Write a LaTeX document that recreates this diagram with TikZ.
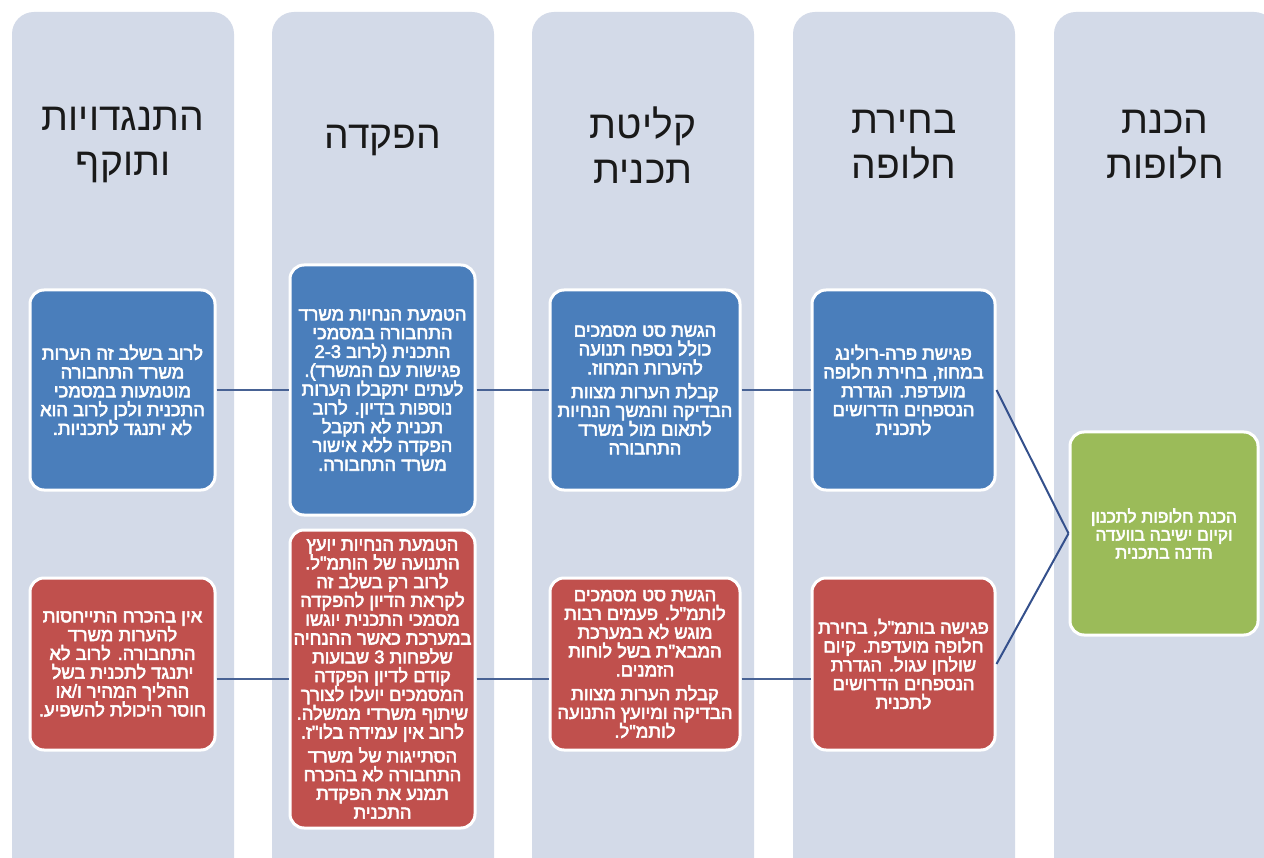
\documentclass[tikz,border=0pt]{standalone}
\usepackage{fontspec}
\usetikzlibrary{shadows}
\newfontfamily\hebfont[Script=Hebrew]{Liberation Sans}
\newfontfamily\hebbold[Script=Hebrew,FakeBold=3]{Liberation Sans}
\TeXXeTstate=1
\newcommand\heb[1]{\beginR #1\endR}
\definecolor{lanecol}{RGB}{211,218,232}
\definecolor{bluebox}{RGB}{74,126,187}
\definecolor{redbox}{RGB}{192,80,77}
\definecolor{greenbox}{RGB}{155,187,89}
\definecolor{conncol}{RGB}{72,98,148}
\definecolor{diagcol}{RGB}{52,80,140}
\definecolor{headcol}{RGB}{25,25,25}
\tikzset{
  lanebox/.style={fill=lanecol, rounded corners=22pt},
  head/.style={text=headcol, align=center, font=\hebfont\fontsize{39}{45}\selectfont},
  card/.style={draw=white, line width=3pt, rounded corners=14pt, align=center, text=white,
    inner sep=0pt, font=\hebbold\fontsize{18.3}{18.8}\selectfont,
    drop shadow={shadow xshift=0.8pt, shadow yshift=-0.8pt, opacity=0.25}},
  bluecard/.style={card, fill=bluebox},
  redcard/.style={card, fill=redbox},
  greencard/.style={card, fill=greenbox, font=\hebbold\fontsize{17.3}{18}\selectfont},
  conn/.style={draw=conncol, line width=2.5pt},
  diag/.style={draw=diagcol, line width=2pt}
}
\begin{document}
\begin{tikzpicture}[x=1pt,y=-1pt]
\useasboundingbox (0,0) rectangle (1264,858);
\clip (0,0) rectangle (1264,858);
\fill[white] (0,0) rectangle (1264,858);
% lanes
\foreach \xx in {12,272,532,793,1054}
  \fill[lanebox] (\xx,12) rectangle ++(222,880);
% headings
\node[head] (h1) at (123,145) {\heb{התנגדויות}\\\heb{ותוקף}};
\node[head] (h2) at (383,140) {\heb{הפקדה}};
\node[head] (h3) at (643,145) {\heb{קליטת}\\\heb{תכנית}};
\node[head] (h4) at (904,145) {\heb{בחירת}\\\heb{חלופה}};
\node[head] (h5) at (1165,145) {\heb{הכנת}\\\heb{חלופות}};
% blue row
\node[bluecard, minimum width=185pt, minimum height=200pt] (b1) at (122.5,390)
  {\heb{לרוב בשלב זה הערות}\\\heb{משרד התחבורה}\\\heb{מוטמעות במסמכי}\\\heb{התכנית ולכן לרוב הוא}\\\heb{לא יתנגד לתכניות.}};
\node[bluecard, minimum width=185pt, minimum height=250pt] (b2) at (382.5,390)
  {\heb{הטמעת הנחיות משרד}\\\heb{התחבורה במסמכי}\\\heb{התכנית (לרוב 2-3}\\\heb{פגישות עם המשרד).}\\\heb{לעתים יתקבלו הערות}\\\heb{נוספות בדיון. לרוב}\\\heb{תכנית לא תקבל}\\\heb{הפקדה ללא אישור}\\\heb{משרד התחבורה.}};
\node[bluecard, minimum width=190pt, minimum height=200pt] (b3) at (645,390)
  {\heb{הגשת סט מסמכים}\\\heb{כולל נספח תנועה}\\\heb{להערות המחוז.}\\[5pt]\heb{קבלת הערות מצוות}\\\heb{הבדיקה והמשך הנחיות}\\\heb{לתאום מול משרד}\\\heb{התחבורה}};
\node[bluecard, minimum width=183pt, minimum height=200pt] (b4) at (903.5,390)
  {\heb{פגישת פרה-רולינג}\\\heb{במחוז, בחירת חלופה}\\\heb{מועדפת. הגדרת}\\\heb{הנספחים הדרושים}\\\heb{לתכנית}};
% red row
\node[redcard, minimum width=185pt, minimum height=172pt] (r1) at (122.5,664)
  {\heb{אין בהכרח התייחסות}\\\heb{להערות משרד}\\\heb{התחבורה. לרוב לא}\\\heb{יתנגד לתכנית בשל}\\\heb{ההליך המהיר ו/או}\\\heb{חוסר היכולת להשפיע.}};
\node[redcard, minimum width=185pt, minimum height=298pt] (r2) at (382.5,679)
  {\heb{הטמעת הנחיות יועץ}\\\heb{התנועה של הותמ"ל.}\\\heb{לרוב רק בשלב זה}\\\heb{לקראת הדיון להפקדה}\\\heb{מסמכי התכנית יוגשו}\\\heb{במערכת כאשר ההנחיה}\\\heb{שלפחות 3 שבועות}\\\heb{קודם לדיון הפקדה}\\\heb{המסמכים יועלו לצורך}\\\heb{שיתוף משרדי ממשלה.}\\\heb{לרוב אין עמידה בלו"ז.}\\[5pt]\heb{הסתייגות של משרד}\\\heb{התחבורה לא בהכרח}\\\heb{תמנע את הפקדת}\\\heb{התכנית}};
\node[redcard, minimum width=190pt, minimum height=172pt] (r3) at (645,664)
  {\heb{הגשת סט מסמכים}\\\heb{לותמ"ל. פעמים רבות}\\\heb{מוגש לא במערכת}\\\heb{המבא"ת בשל לוחות}\\\heb{הזמנים.}\\[5pt]\heb{קבלת הערות מצוות}\\\heb{הבדיקה ומיועץ התנועה}\\\heb{לותמ"ל.}};
\node[redcard, minimum width=183pt, minimum height=172pt] (r4) at (903.5,664)
  {\heb{פגישה בותמ"ל, בחירת}\\\heb{חלופה מועדפת. קיום}\\\heb{שולחן עגול. הגדרת}\\\heb{הנספחים הדרושים}\\\heb{לתכנית}};
% green
\node[greencard, minimum width=188pt, minimum height=203pt] (g) at (1164,533.5)
  {\heb{הכנת חלופות לתכנון}\\\heb{וקיום ישיבה בוועדה}\\\heb{הדנה בתכנית}};
% connectors
\draw[conn] (b1.east) -- (b2.west);
\draw[conn] (b2.east) -- (b3.west);
\draw[conn] (b3.east) -- (b4.west);
\draw[conn] (r1.east |- r2.west) -- (r2.west);
\draw[conn] (r2.east) -- (r3.west |- r2.east);
\draw[conn] (r3.east |- r2.east) -- (r4.west |- r2.east);
\draw[diag] (b4.east) -- (g.west);
\draw[diag] (r4.east) -- (g.west);
\end{tikzpicture}
\end{document}
